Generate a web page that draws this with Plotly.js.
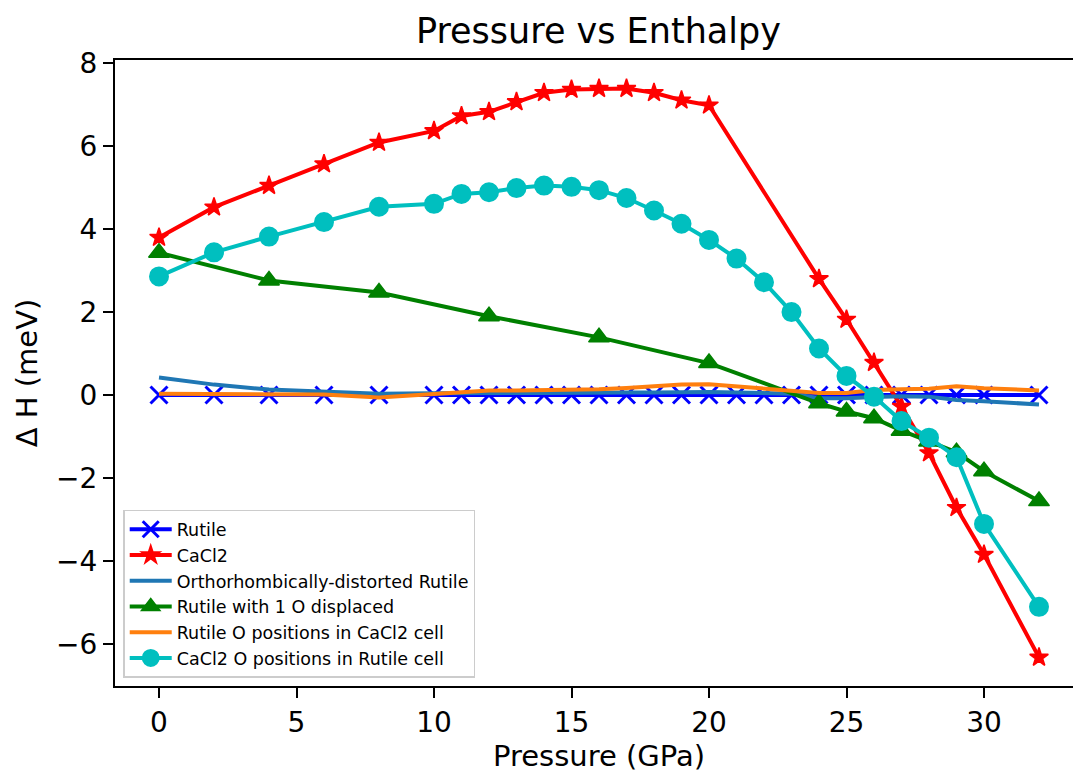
<!DOCTYPE html>
<html>
<head>
<meta charset="utf-8">
<script src="https://cdn.plot.ly/plotly-3.0.1.min.js"></script>
<style>
html, body { margin: 0; padding: 0; overflow: hidden; background: #fff; }
#chart { width: 1083px; height: 774px; }
</style>
</head>
<body>
<div id="chart"></div>
<script>
// Pressure (GPa) values
const pressureFull = [0,2,4,6,8,10,11,12,13,14,15,16,17,18,19,20,21,22,23,24,25,26,27,28,29,30,32];
const pressureCaCl2 = [0,2,4,6,8,10,11,12,13,14,15,16,17,18,19,20,24,25,26,27,28,29,30,32];
const pressureDisplaced = [0,4,8,12,16,20,24,25,26,27,28,29,30,32];

// Enthalpy differences (meV)
const hRutile = [0,0,0,0,0,0,0,0,0,0,0,0,0,0,0,0,0,0,0,0,0,0,0,0,0,0,0];
const hCaCl2 = [3.80,4.53,5.05,5.57,6.09,6.37,6.73,6.83,7.07,7.29,7.37,7.39,7.39,7.29,7.11,6.99,2.80,1.82,0.78,-0.28,-1.40,-2.72,-3.85,-6.33];
const hOrtho = [0.42,0.25,0.13,0.07,0.03,0.04,0.05,0.05,0.05,0.05,0.06,0.06,0.06,0.06,0.07,0.07,0.06,0.05,0.03,-0.08,-0.08,-0.05,-0.03,-0.04,-0.12,-0.15,-0.23];
const hDisplaced = [3.43,2.76,2.47,1.90,1.39,0.77,-0.20,-0.40,-0.56,-0.86,-1.12,-1.38,-1.84,-2.56];
const hRutileInCaCl2 = [0.03,0.03,0.03,0.01,-0.06,0.02,0.07,0.11,0.11,0.12,0.12,0.14,0.17,0.22,0.25,0.26,0.21,0.15,0.10,0.05,0.05,0.12,0.14,0.15,0.21,0.16,0.11];
const hCaCl2InRutile = [2.86,3.44,3.82,4.17,4.54,4.61,4.85,4.89,4.99,5.05,5.02,4.94,4.75,4.45,4.13,3.74,3.29,2.72,2.00,1.12,0.46,-0.04,-0.63,-1.03,-1.50,-3.11,-5.11];

const seriesNames = ["Rutile","CaCl2","Orthorhombically-distorted Rutile","Rutile with 1 O displaced","Rutile O positions in CaCl2 cell","CaCl2 O positions in Rutile cell"];

const LW = 4;
const traces = [
  {x: pressureFull, y: hRutile, name: seriesNames[0], mode: 'lines+markers',
   line: {color: '#0000ff', width: LW},
   marker: {symbol: 'x-thin', size: 17, color: '#0000ff', line: {color: '#0000ff', width: 3}}},
  {x: pressureCaCl2, y: hCaCl2, name: seriesNames[1], mode: 'lines+markers',
   line: {color: '#ff0000', width: LW},
   marker: {symbol: 'star', size: 14, color: '#ff0000', line: {color: '#ff0000', width: 1.5}}},
  {x: pressureFull, y: hOrtho, name: seriesNames[2], mode: 'lines',
   line: {color: '#1f77b4', width: LW}},
  {x: pressureDisplaced, y: hDisplaced, name: seriesNames[3], mode: 'lines+markers',
   line: {color: '#008000', width: LW},
   marker: {symbol: 'triangle-up', size: 18, color: '#008000', line: {color: '#008000', width: 1.5}}},
  {x: pressureFull, y: hRutileInCaCl2, name: seriesNames[4], mode: 'lines',
   line: {color: '#ff7f0e', width: LW}},
  {x: pressureFull, y: hCaCl2InRutile, name: seriesNames[5], mode: 'lines+markers',
   line: {color: '#00bfbf', width: LW},
   marker: {symbol: 'circle', size: 18, color: '#00bfbf', line: {color: '#00bfbf', width: 2}}}
];

const FONT = 'DejaVu Sans, sans-serif';
const layout = {
  width: 1083, height: 774,
  margin: {l: 115, r: 0, t: 60, b: 88},
  paper_bgcolor: '#ffffff', plot_bgcolor: '#ffffff',
  font: {family: FONT, color: '#000000', size: 28},
  title: {text: 'Pressure vs Enthalpy', font: {family: FONT, size: 35, color: '#000'},
          x: 0.5526, xanchor: 'center', y: 0.960, yanchor: 'middle', xref: 'container', yref: 'container'},
  xaxis: {
    range: [-1.6, 33.6], tick0: 0, dtick: 5, showgrid: false, zeroline: false,
    showline: true, linecolor: '#000', linewidth: 2, mirror: true,
    ticks: 'outside', ticklen: 10, tickwidth: 2, tickcolor: '#000',
    tickfont: {family: FONT, size: 28, color: '#000'},
    title: {text: 'Pressure (GPa)', font: {family: FONT, size: 29, color: '#000'}, standoff: 8}
  },
  yaxis: {
    range: [-7.02, 8.08], tick0: 0, dtick: 2, showgrid: false, zeroline: false,
    showline: true, linecolor: '#000', linewidth: 2, mirror: true,
    ticks: 'outside', ticklen: 10, tickwidth: 2, tickcolor: '#000',
    tickfont: {family: FONT, size: 28, color: '#000'},
    title: {text: 'Δ H (meV)', font: {family: FONT, size: 29, color: '#000'}, standoff: 10}
  },
  showlegend: true,
  legend: {
    x: 0.0085, y: 0.013, xanchor: 'left', yanchor: 'bottom',
    bgcolor: 'rgba(255,255,255,0.8)', bordercolor: '#cccccc', borderwidth: 1.5,
    font: {family: FONT, size: 17.5, color: '#000'},
    itemwidth: 42
  }
};

Plotly.newPlot('chart', traces, layout, {displayModeBar: false, responsive: false});
</script>
</body>
</html>
